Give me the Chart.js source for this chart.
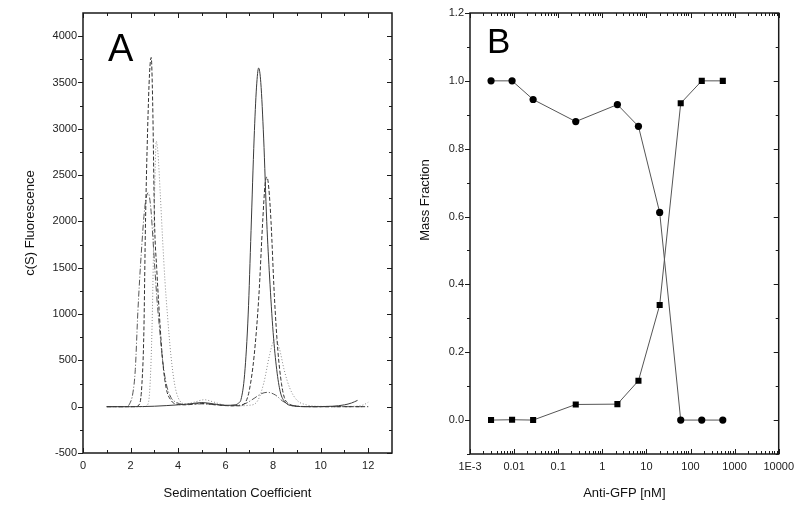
<!DOCTYPE html>
<html>
<head>
<meta charset="utf-8">
<script src="https://cdn.jsdelivr.net/npm/chart.js@4/dist/chart.umd.min.js"></script>
<style>
  body { margin: 0; background: #fff; }
  .wrap { position: relative; width: 800px; height: 506px; }
  canvas { position: absolute; top: 0; }
  #chartA { left: 0; }
  #chartB { left: 400px; }
</style>
</head>
<body>
<div class="wrap">
  <canvas id="chartA" width="400" height="506"></canvas>
  <canvas id="chartB" width="400" height="506"></canvas>
</div>
<script>
// Panel A: c(S) distributions, [sedimentation coefficient, fluorescence]
const solidCurve = [[1,0],[2,0],[3,5],[4,20],[4.5,30],[5,45],[5.5,30],[6,15],[6.4,20],[6.55,40],[6.65,80],[6.8,350],
  [6.95,1000],[7.07,1900],[7.2,2900],[7.3,3450],[7.39,3656],[7.48,3500],[7.6,2900],[7.73,2000],[7.85,1400],[8.0,800],
  [8.15,400],[8.3,160],[8.5,50],[8.8,10],[9.5,0],[10.5,5],[11,20],[11.3,40],[11.55,68]];
const dashedCurve = [[1,0],[2.2,0],[2.38,30],[2.48,250],[2.56,800],[2.63,2000],[2.72,3000],[2.8,3600],[2.87,3770],
  [2.93,3300],[3.01,2000],[3.1,1500],[3.2,1050],[3.35,500],[3.5,200],[3.7,70],[3.9,30],[4.3,20],[5,35],[5.6,20],
  [6.2,10],[6.6,10],[6.86,60],[7.0,180],[7.2,550],[7.4,1200],[7.56,2000],[7.66,2400],[7.74,2480],[7.82,2350],
  [7.91,2000],[8.05,1200],[8.2,600],[8.35,250],[8.47,100],[8.7,25],[9,5],[10,0],[12,0]];
const dashDotCurve = [[1,0],[1.8,0],[1.96,30],[2.1,150],[2.2,400],[2.31,1034],[2.45,1650],[2.6,2150],[2.74,2310],
  [2.85,2150],[2.97,1700],[3.1,1200],[3.2,900],[3.35,500],[3.5,250],[3.7,100],[3.9,50],[4.3,25],[5,30],[5.6,20],
  [6.2,10],[6.8,30],[7.2,90],[7.5,140],[7.76,155],[8.1,125],[8.4,60],[8.8,15],[9.5,0],[11.8,0]];
const dottedCurve = [[1,0],[2.6,0],[2.75,40],[2.85,400],[2.92,1034],[2.98,1900],[3.04,2600],[3.08,2866],[3.15,2750],
  [3.25,2300],[3.35,1800],[3.45,1350],[3.55,1000],[3.7,550],[3.85,250],[4.0,100],[4.3,30],[4.7,50],[5.1,75],
  [5.5,50],[6,15],[6.6,10],[7.0,15],[7.35,65],[7.6,250],[7.85,560],[8.0,700],[8.1,730],[8.25,640],[8.47,390],
  [8.7,200],[9.0,70],[9.4,20],[9.8,5],[10.5,3],[11.5,5],[11.8,20],[12,48]];
const xTicksA = [0, 2, 4, 6, 8, 10, 12];
const yTicksA = [-500, 0, 500, 1000, 1500, 2000, 2500, 3000, 3500, 4000];

// Panel B: mass fraction vs anti-GFP
const antiGFP = [0.003, 0.009, 0.027, 0.25, 2.2, 6.6, 20, 60, 180, 540];
const freeGFP = [1.0, 1.0, 0.945, 0.88, 0.93, 0.866, 0.612, 0, 0, 0];
const complexGFP = [0, 0.001, 0, 0.046, 0.047, 0.116, 0.339, 0.934, 1.0, 1.0];
const xTicksB = [0.001, 0.01, 0.1, 1, 10, 100, 1000, 10000];
const xLabelsB = ['1E-3', '0.01', '0.1', '1', '10', '100', '1000', '10000'];
const yTicksB = [0, 0.2, 0.4, 0.6, 0.8, 1.0, 1.2];

const family = '"Liberation Sans", Arial, sans-serif';

// frame box, ticks in on top/right/bottom, out on the left, panel letter and y title
const framePlugin = {
  id: 'frame',
  afterDraw(chart, args, o) {
    const { ctx, chartArea: a, scales: { x, y } } = chart;
    ctx.save();
    ctx.strokeStyle = '#1a1a1a';
    ctx.lineWidth = 1;
    const seg = (x1, y1, x2, y2) => { ctx.beginPath(); ctx.moveTo(x1, y1); ctx.lineTo(x2, y2); ctx.stroke(); };
    const yTick = (v, len) => {
      const p = Math.round(y.getPixelForValue(v)) + 0.5;
      seg(a.left - len, p, a.left, p);
      seg(a.right - len, p, a.right, p);
    };
    const xTick = (v, len) => {
      const p = Math.round(x.getPixelForValue(v)) + 0.5;
      seg(p, a.bottom, p, a.bottom - len);
      seg(p, a.top, p, a.top + len);
    };
    y.ticks.forEach(t => yTick(t.value, 5));
    o.yMinor.forEach(v => yTick(v, 3));
    x.ticks.forEach(t => xTick(t.value, 5));
    o.xMinor.forEach(v => xTick(v, 3));
    ctx.lineWidth = 1.5;
    ctx.strokeRect(a.left, a.top, a.right - a.left, a.bottom - a.top);

    ctx.fillStyle = '#000';
    ctx.font = o.letterSize + 'px ' + family;
    ctx.textBaseline = 'alphabetic';
    ctx.fillText(o.letter, a.left + o.letterX, a.top + o.letterY);

    ctx.fillStyle = '#111';
    ctx.font = '13px ' + family;
    ctx.textAlign = 'center';
    ctx.textBaseline = 'middle';
    ctx.translate(o.yTitleX, o.yTitleY);
    ctx.rotate(-Math.PI / 2);
    ctx.fillText(o.yTitle, 0, 0);
    ctx.restore();
  }
};

const tickFont = { size: 11, family: family };
const titleFont = { size: 13, family: family };

// chart A
const curveStyles = [
  { pts: solidCurve, color: '#3a3a3a', dash: [] },
  { pts: dashedCurve, color: '#333', dash: [4, 2] },
  { pts: dashDotCurve, color: '#555', dash: [6, 2, 1, 2] },
  { pts: dottedCurve, color: '#8a8a8a', dash: [1, 2] }
];

new Chart(document.getElementById('chartA'), {
  type: 'line',
  data: {
    datasets: curveStyles.map(c => ({
      data: c.pts.map(([s, v]) => ({ x: s, y: v })),
      borderColor: c.color,
      borderDash: c.dash,
      borderWidth: 1,
      pointRadius: 0,
      cubicInterpolationMode: 'monotone',
      fill: false
    }))
  },
  options: {
    responsive: false,
    animation: false,
    layout: { padding: { top: 13, right: 8, left: 0, bottom: 0 } },
    plugins: {
      legend: { display: false },
      tooltip: { enabled: false },
      frame: {
        letter: 'A', letterSize: 38, letterX: 25, letterY: 48,
        yTitle: 'c(S) Fluorescence', yTitleX: 30, yTitleY: 223,
        yMinor: yTicksA.map(v => v + 250).filter(v => v < 4250),
        xMinor: xTicksA.map(v => v + 1).filter(v => v < 13)
      }
    },
    scales: {
      x: {
        type: 'linear', min: 0, max: 13,
        afterBuildTicks: s => { s.ticks = xTicksA.map(v => ({ value: v })); },
        afterFit: s => { s.height = 53; },
        grid: { display: false, drawTicks: false },
        border: { display: false },
        ticks: { padding: 6, color: '#222', font: tickFont, autoSkip: false, maxRotation: 0 },
        title: { display: true, text: 'Sedimentation Coefficient', color: '#111', font: titleFont, padding: { top: 0, bottom: 5 } }
      },
      y: {
        type: 'linear', min: -500, max: 4250,
        afterBuildTicks: s => { s.ticks = yTicksA.map(v => ({ value: v })); },
        afterFit: s => { s.width = 83; },
        grid: { display: false, drawTicks: false },
        border: { display: false },
        ticks: { padding: 6, color: '#222', font: tickFont, callback: v => String(v) }
      }
    }
  },
  plugins: [framePlugin]
});

// chart B
const xMinorB = [];
for (let k = -3; k < 4; k++) {
  for (let m = 2; m < 10; m++) xMinorB.push(m * Math.pow(10, k));
}

new Chart(document.getElementById('chartB'), {
  type: 'line',
  data: {
    datasets: [
      {
        data: antiGFP.map((c, i) => ({ x: c, y: freeGFP[i] })),
        borderColor: '#555', borderWidth: 1,
        pointStyle: 'circle', pointRadius: 3.6,
        pointBackgroundColor: '#000', pointBorderColor: '#000', pointBorderWidth: 0
      },
      {
        data: antiGFP.map((c, i) => ({ x: c, y: complexGFP[i] })),
        borderColor: '#555', borderWidth: 1,
        pointStyle: 'rect', pointRadius: 4.3,
        pointBackgroundColor: '#000', pointBorderColor: '#000', pointBorderWidth: 0
      }
    ]
  },
  options: {
    responsive: false,
    animation: false,
    layout: { padding: { top: 13, right: 21, left: 0, bottom: 0 } },
    plugins: {
      legend: { display: false },
      tooltip: { enabled: false },
      frame: {
        letter: 'B', letterSize: 35, letterX: 17, letterY: 40,
        yTitle: 'Mass Fraction', yTitleX: 25, yTitleY: 200,
        yMinor: yTicksB.map(v => v - 0.1),
        xMinor: xMinorB
      }
    },
    scales: {
      x: {
        type: 'logarithmic', min: 0.001, max: 10000,
        afterBuildTicks: s => { s.ticks = xTicksB.map(v => ({ value: v })); },
        afterFit: s => { s.height = 52; },
        grid: { display: false, drawTicks: false },
        border: { display: false },
        ticks: { padding: 6, color: '#222', font: tickFont, autoSkip: false, maxRotation: 0,
          callback: (v, i) => xLabelsB[i] },
        title: { display: true, text: 'Anti-GFP [nM]', color: '#111', font: titleFont, padding: { top: 0, bottom: 5 } }
      },
      y: {
        type: 'linear', min: -0.1, max: 1.2,
        afterBuildTicks: s => { s.ticks = yTicksB.map(v => ({ value: v })); },
        afterFit: s => { s.width = 70; },
        grid: { display: false, drawTicks: false },
        border: { display: false },
        ticks: { padding: 6, color: '#222', font: tickFont, callback: v => v.toFixed(1) }
      }
    }
  },
  plugins: [framePlugin]
});
</script>
</body>
</html>
